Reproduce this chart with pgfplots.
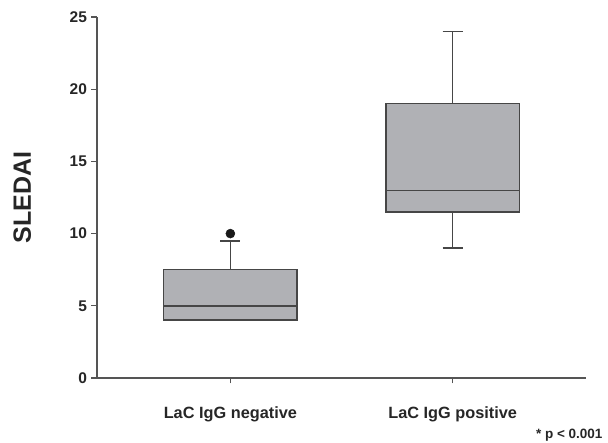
\documentclass[border=0pt]{standalone}
\usepackage{fontspec}
\setmainfont{Liberation Sans}
\usepackage{pgfplots}
\pgfplotsset{compat=1.18}
\usepgfplotslibrary{statistics}
\definecolor{boxgray}{RGB}{176,177,181}
\definecolor{linegray}{RGB}{70,70,70}
\definecolor{axisgray}{RGB}{85,85,85}
\begin{document}
\begin{tikzpicture}
\useasboundingbox (-97pt,-65pt) rectangle (511pt,378pt);
\begin{axis}[
  at={(0pt,0pt)}, anchor=south west,
  width=489pt, height=361pt, scale only axis,
  xmin=0.4, xmax=2.6, ymin=0, ymax=25,
  axis lines=left,
  axis line style={-, line width=1.1pt, color=axisgray},
  tick align=outside,
  major tick length=5.5pt,
  tick style={line width=1.1pt, color=axisgray},
  xtick={1,2},
  xticklabels={LaC IgG negative, LaC IgG positive},
  ytick={0,5,10,15,20,25},
  /pgf/number format/assume math mode=true,
  tick label style={font=\fontsize{15.5}{18}\selectfont\bfseries, text=black!85},
  yticklabel style={xshift=-1pt},
  xticklabel style={font=\fontsize{16.3}{19}\selectfont\bfseries, anchor=base, yshift=-35pt},
  ylabel={SLEDAI},
  every axis y label/.style={at={(axis description cs:-0.153,0.5)}, rotate=90, anchor=center, font=\fontsize{25}{30}\selectfont\bfseries, text=black!85},
  clip=false,
  boxplot/draw direction=y,
]
\addplot+[boxplot prepared={lower whisker=4, lower quartile=4, median=5, upper quartile=7.5, upper whisker=9.5, draw position=1, box extend=0.6, whisker extend=0.09},
  solid, fill=boxgray, draw=linegray, line width=1.5pt, mark=*, mark size=4.5pt, mark options={fill=black!90, draw=black!90, line width=0.5pt}]
  table[row sep=\\, y index=0] {10\\};
\addplot+[boxplot prepared={lower whisker=9, lower quartile=11.5, median=13, upper quartile=19, upper whisker=24, draw position=2, box extend=0.6, whisker extend=0.09},
  solid, fill=boxgray, draw=linegray, line width=1.5pt, mark=none]
  table[row sep=\\, y index=0] {\\};
\end{axis}
\node[anchor=base east, font=\fontsize{13.5}{16}\selectfont\bfseries, text=black!85] at (509pt,-61pt) {* p < 0.001};
\end{tikzpicture}
\end{document}
